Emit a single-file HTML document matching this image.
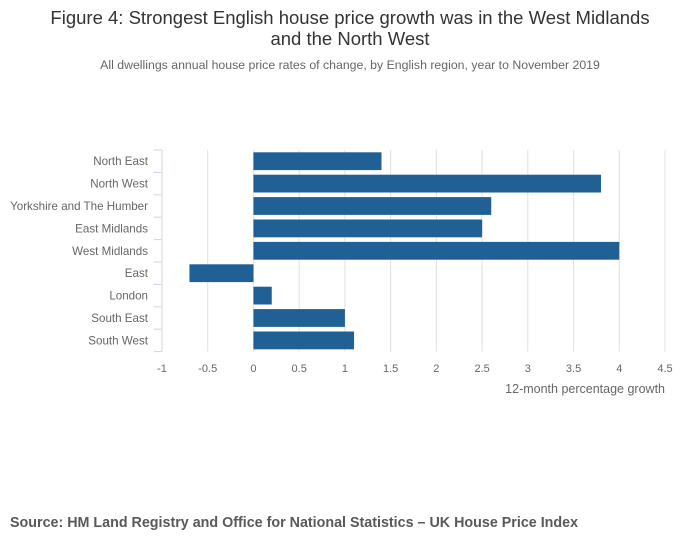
<!DOCTYPE html>
<html><head><meta charset="utf-8"><style>
body{margin:0;background:#fff;font-family:"Liberation Sans",sans-serif}
</style></head><body>
<svg width="700" height="549" xmlns="http://www.w3.org/2000/svg" font-family="Liberation Sans, sans-serif">
<text x="350" y="24" text-anchor="middle" font-size="18.5" fill="#333">Figure 4: Strongest English house price growth was in the West Midlands</text>
<text x="350" y="45" text-anchor="middle" font-size="18.5" fill="#333">and the North West</text>
<text x="350" y="69" text-anchor="middle" font-size="12.3" fill="#666">All dwellings annual house price rates of change, by English region, year to November 2019</text>
<g id="grid"></g>
<g id="bars"></g>
<g id="yaxis"></g>
<g id="xaxis"></g>
<text x="665" y="393" text-anchor="end" font-size="12.5" fill="#666">12-month percentage growth</text>
<text x="10" y="527" font-size="14.3" font-weight="bold" fill="#595959">Source: HM Land Registry and Office for National Statistics – UK House Price Index</text>
</svg>
<script>
const categories=["North East","North West","Yorkshire and The Humber","East Midlands","West Midlands","East","London","South East","South West"];
const values=[1.4,3.8,2.6,2.5,4.0,-0.7,0.2,1.0,1.1];
const ticks=[-1,-0.5,0,0.5,1,1.5,2,2.5,3,3.5,4,4.5];
const tickLabels=["-1","-0.5","0","0.5","1","1.5","2","2.5","3","3.5","4","4.5"];
const NS="http://www.w3.org/2000/svg";
const x0=162,x1=665,xmin=-1,xmax=4.5,topY=150,band=22.4;
const xs=v=>x0+(v-xmin)/(xmax-xmin)*(x1-x0);
const ys=i=>topY+i*band;
const bottomY=topY+categories.length*band;
function mk(t,a,p){const e=document.createElementNS(NS,t);for(const k in a)e.setAttribute(k,a[k]);document.getElementById(p).appendChild(e);return e;}
ticks.forEach((t,i)=>{
 if(i>0){const g=mk("line",{x1:xs(t),x2:xs(t),y1:topY,y2:bottomY,stroke:"#e0e0e0","stroke-width":1},"grid");
 
 }
 const l=mk("text",{x:xs(t),y:372,"text-anchor":"middle","font-size":11,fill:"#666"},"xaxis");
 l.textContent=tickLabels[i];
 
 
});
const ax=mk("line",{x1:x0,x2:x0,y1:topY,y2:bottomY,stroke:"#ccd6eb","stroke-width":1},"yaxis");


for(let i=0;i<=categories.length;i++){
 const tk=mk("line",{x1:x0-8,x2:x0,y1:ys(i),y2:ys(i),stroke:"#ccd6eb","stroke-width":1},"yaxis");
 
 
}
categories.forEach((c,i)=>{
 const v=values[i];
 const r=mk("rect",{x:Math.min(xs(0),xs(v)),y:ys(i)+2.3,width:Math.abs(xs(v)-xs(0)),height:17.8,fill:"#206095"},"bars");
 
 
 const t=mk("text",{x:148,y:ys(i)+band/2+4,"text-anchor":"end","font-size":11.6,fill:"#666"},"yaxis");
 t.textContent=c;
 
 
});
</script>
</body></html>
